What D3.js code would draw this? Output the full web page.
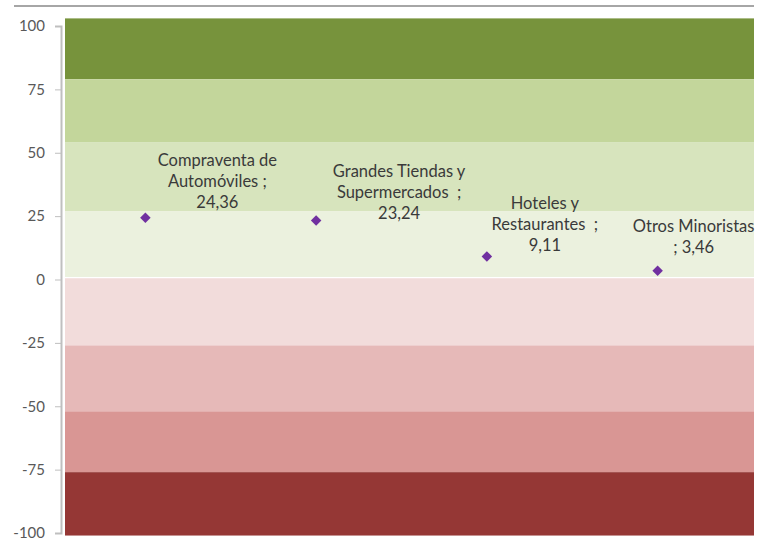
<!DOCTYPE html>
<html>
<head>
<meta charset="utf-8">
<script src="https://cdn.jsdelivr.net/npm/d3@7"></script>
<style>
html,body{margin:0;padding:0;background:#fff;}
svg{display:block;}
</style>
</head>
<body>
<svg id="chart" width="768" height="546"></svg>
<script>
// ---- data ----
const categories = ["Compraventa de Automóviles", "Grandes Tiendas y Supermercados", "Hoteles y Restaurantes", "Otros Minoristas"];
const values = [24.36, 23.24, 9.11, 3.46];
const labelLines = [
  ["Compraventa de", "Automóviles ;"],
  ["Grandes Tiendas y", "Supermercados\u00a0\u00a0;"],
  ["Hoteles y", "Restaurantes\u00a0\u00a0;"],
  ["Otros Minoristas"]
];
const yTicks = [100, 75, 50, 25, 0, -25, -50, -75, -100];
const bandLower = [79, 54, 27, 1, -26, -52, -76, -101];
const bandUpper = [103, 79, 54, 27, 0.5, -26, -52, -76];
const bandColors = ["#77933C", "#C3D69B", "#D7E4BD", "#EBF1DE", "#F2DCDB", "#E6B9B8", "#D99694", "#953735"];

// ---- layout ----
const plotLeft = 65, plotRight = 754;
const labelDx = [72, 83, 58, 36];
const labelDy = [-36, -28, -31, -33];
const lineH = 21;

const svg = d3.select("#chart");
const y = d3.scaleLinear().domain([-100, 100]).range([533, 26]);
const x = d3.scaleBand().domain(categories).range([60, 743]);

// top border line
svg.append("line").attr("x1", 14).attr("x2", 754).attr("y1", 6).attr("y2", 6)
  .attr("stroke", "#a6a6a6").attr("stroke-width", 2);

// bands
svg.append("g").selectAll("rect").data(bandColors).join("rect")
  .attr("x", plotLeft).attr("width", plotRight - plotLeft)
  .attr("y", (d, i) => y(bandUpper[i]))
  .attr("height", (d, i) => y(bandLower[i]) - y(bandUpper[i]))
  .attr("fill", d => d);

// y axis
const yAxis = d3.axisLeft(y).tickValues(yTicks).tickSize(6).tickPadding(10)
  .tickFormat(d => d);
const ga = svg.append("g").attr("transform", "translate(61,0)").call(yAxis);
ga.select(".domain").attr("stroke", "#bfbfbf").attr("stroke-width", 2);
ga.selectAll(".tick line").attr("stroke", "#bfbfbf");
ga.selectAll(".tick text").attr("fill", "#595959")
  .style("font-family", "Lato, 'Open Sans', sans-serif").style("font-size", "15px");

// points
svg.append("g").selectAll("path").data(values).join("path")
  .attr("d", d3.symbol(d3.symbolSquare, 55))
  .attr("transform", (d, i) => `translate(${x(categories[i]) + x.bandwidth() / 2},${y(d)}) rotate(45)`)
  .attr("fill", "#7030A0");

// labels
const fmt = v => d3.format(".2f")(v).replace(".", ",");
categories.forEach((c, i) => {
  const px = x(c) + x.bandwidth() / 2, py = y(values[i]);
  const lines = labelLines[i].slice();
  if (lines.length === 1) lines.push("; " + fmt(values[i]));
  else lines.push(fmt(values[i]));
  const cx = px + labelDx[i];
  const cy = py + labelDy[i];
  const t = svg.append("text")
    .attr("text-anchor", "middle")
    .attr("fill", "#3a3a3a")
    .style("font-family", "Lato, 'Open Sans', sans-serif")
    .style("font-size", "16.5px");
  lines.forEach((l, k) => {
    t.append("tspan").attr("x", cx)
      .attr("y", cy + (k - (lines.length - 1) / 2) * lineH + 5)
      .text(l);
  });
  // keep label inside plot on the right
  const bb = t.node().getBBox();
  if (bb.x + bb.width > plotRight + 1) {
    const shift = bb.x + bb.width - (plotRight + 1);
    t.selectAll("tspan").attr("x", cx - shift);
  }
});
</script>
</body>
</html>
